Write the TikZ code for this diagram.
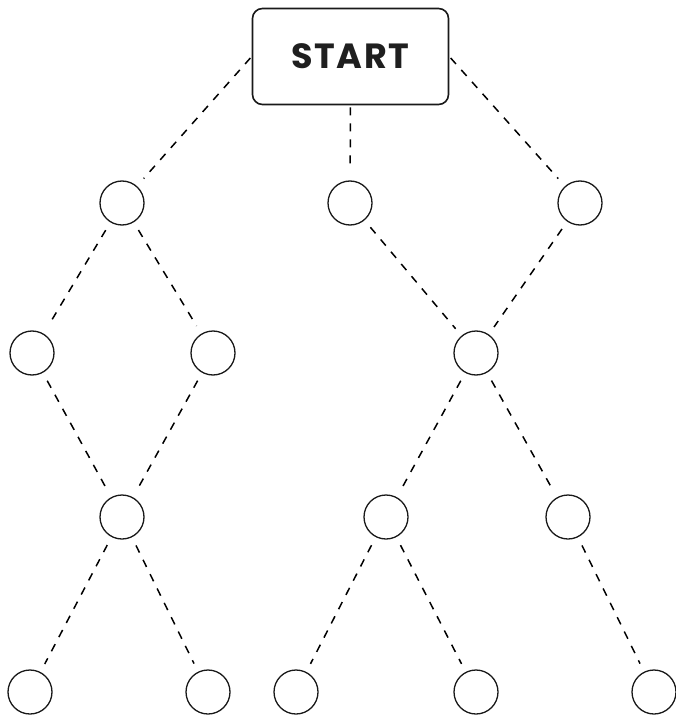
\documentclass[tikz,border=0pt]{standalone}
\usepackage{fontspec}
\newfontfamily\startfont[LetterSpace=4]{Poppins}
\begin{document}
\begin{tikzpicture}[x=1pt,y=-1pt,
  leaf/.style={circle,draw=black!90,line width=1.3pt,minimum size=44pt,inner sep=0pt},
  startbox/.style={draw=black!90,line width=1.6pt,rounded corners=10pt,minimum width=196pt,minimum height=96pt,inner sep=0pt,font=\startfont\bfseries\fontsize{35}{35}\selectfont,text=black!88},
  link/.style={draw=black,line width=1.5pt,dash pattern=on 8pt off 8pt,shorten <=9pt,shorten >=9pt},
  toplink/.style={draw=black,line width=1.5pt,dash pattern=on 8pt off 8pt,shorten <=2pt,shorten >=10pt}]
\useasboundingbox (0,0) rectangle (676,719);
\node[startbox] (s) at (350.5,56.5) {START};
\node[leaf] (a1) at (122,203) {};
\node[leaf] (a2) at (350,203) {};
\node[leaf] (a3) at (580,203) {};
\node[leaf] (b1) at (32,353) {};
\node[leaf] (b2) at (213,353) {};
\node[leaf] (b3) at (476,353) {};
\node[leaf] (c1) at (122,517) {};
\node[leaf] (c2) at (386,517) {};
\node[leaf] (c3) at (568,517) {};
\node[leaf] (d1) at (30,692) {};
\node[leaf] (d2) at (208,692) {};
\node[leaf] (d3) at (296,692) {};
\node[leaf] (d4) at (476,692) {};
\node[leaf] (d5) at (654,692) {};
\draw[toplink] (s.west) -- (a1);
\draw[toplink] (s.south) -- (a2);
\draw[toplink] (s.east) -- (a3);
\draw[link] (a1) -- (b1);
\draw[link] (a1) -- (b2);
\draw[link] (b1) -- (c1);
\draw[link] (b2) -- (c1);
\draw[link] (a2) -- (b3);
\draw[link] (a3) -- (b3);
\draw[link] (b3) -- (c2);
\draw[link] (b3) -- (c3);
\draw[link] (c1) -- (d1);
\draw[link] (c1) -- (d2);
\draw[link] (c2) -- (d3);
\draw[link] (c2) -- (d4);
\draw[link] (c3) -- (d5);
\end{tikzpicture}
\end{document}
